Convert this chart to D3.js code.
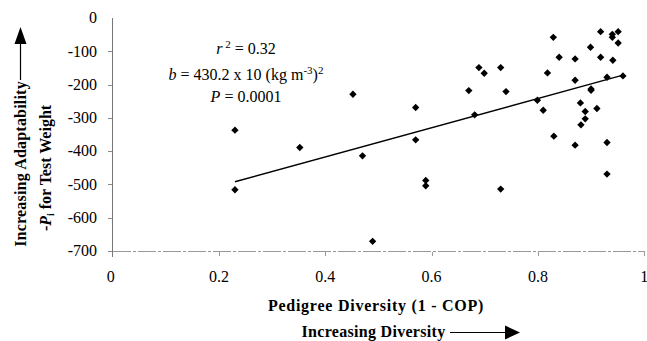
<!DOCTYPE html>
<html>
<head>
<meta charset="utf-8">
<script src="https://cdn.jsdelivr.net/npm/d3@7"></script>
<style>
body { margin: 0; background: #fff; }
</style>
</head>
<body>
<script>
// pedigree diversity (1 - COP) and -Pi for test weight
var diversity = [0.570, 0.570, 0.670, 0.681, 0.689, 0.699, 0.730, 0.740, 0.799, 0.810,
                 0.818, 0.829, 0.830, 0.840, 0.870, 0.870, 0.870, 0.880, 0.889, 0.889,
                 0.881, 0.899, 0.900, 0.900, 0.911, 0.918, 0.918, 0.930, 0.930, 0.940,
                 0.940, 0.941, 0.951, 0.951, 0.960, 0.230, 0.352, 0.452, 0.470, 0.230,
                 0.489, 0.589, 0.589, 0.730, 0.930];
var adaptability = [-269, -366, -218, -291, -149, -166, -149, -221, -247, -277,
                    -165, -58, -355, -118, -123, -187, -382, -255, -281, -303,
                    -321, -88, -213, -217, -272, -41, -118, -178, -374, -49,
                    -58, -127, -41, -75, -174, -337, -389, -229, -414, -516,
                    -671, -488, -504, -514, -469];

// fitted line as drawn
var fitSlope = 439;
var fitIntercept = -593;
var fitRange = [0.23, 0.96];

var xTicks = [0, 0.2, 0.4, 0.6, 0.8, 1];
var yTicks = [0, -100, -200, -300, -400, -500, -600, -700];

var width = 647, height = 341;
var svg = d3.select("body").append("svg")
    .attr("width", width).attr("height", height)
    .attr("font-family", "'Liberation Serif', 'DejaVu Serif', serif");

var x = d3.scaleLinear().domain([0, 1]).range([112.7, 644.2]);
var y = d3.scaleLinear().domain([-700, 0]).range([251, 18]);

// y axis
svg.append("line")
    .attr("x1", 112.5).attr("x2", 112.5)
    .attr("y1", 18).attr("y2", 257)
    .attr("stroke", "#777").attr("stroke-width", 1);

svg.selectAll("line.ytick")
    .data(yTicks.slice(1))
    .enter().append("line")
        .attr("class", "ytick")
        .attr("x1", 108).attr("x2", 112)
        .attr("y1", function(d){ return Math.round(y(d)) + 0.5; })
        .attr("y2", function(d){ return Math.round(y(d)) + 0.5; })
        .attr("stroke", "#888");

svg.selectAll("text.ylab")
    .data(yTicks)
    .enter().append("text")
        .attr("class", "ylab")
        .attr("x", 97)
        .attr("y", function(d){ return y(d); })
        .attr("dy", "0.33em")
        .attr("text-anchor", "end")
        .attr("font-size", 16)
        .text(function(d){ return d; });

// x axis (drawn light, broken like the scan)
svg.append("line")
    .attr("x1", 113).attr("x2", 645)
    .attr("y1", 251.5).attr("y2", 251.5)
    .attr("stroke", "#999").attr("stroke-width", 1)
    .attr("stroke-dasharray", "18,2,3,2");

svg.selectAll("line.xtick")
    .data(xTicks.slice(1))
    .enter().append("line")
        .attr("class", "xtick")
        .attr("x1", function(d){ return Math.round(x(d)) + 0.5; })
        .attr("x2", function(d){ return Math.round(x(d)) + 0.5; })
        .attr("y1", 252).attr("y2", 256)
        .attr("stroke", "#999");

svg.selectAll("text.xlab")
    .data(xTicks)
    .enter().append("text")
        .attr("class", "xlab")
        .attr("x", function(d){ return x(d) + (d === 0 ? -2 : 0); })
        .attr("y", 282)
        .attr("text-anchor", "middle")
        .attr("font-size", 16)
        .text(function(d){ return d; });

// regression line
svg.append("line")
    .attr("x1", x(fitRange[0])).attr("y1", y(fitIntercept + fitSlope * fitRange[0]))
    .attr("x2", x(fitRange[1])).attr("y2", y(fitIntercept + fitSlope * fitRange[1]))
    .attr("stroke", "#000").attr("stroke-width", 1.4);

// points as diamonds
var diamond = d3.symbol().type(d3.symbolSquare).size(27);
svg.selectAll("path.pt")
    .data(diversity)
    .enter().append("path")
        .attr("class", "pt")
        .attr("d", diamond)
        .attr("transform", function(d, i){ return "translate(" + x(d) + "," + y(adaptability[i]) + ") rotate(45)"; })
        .attr("fill", "#000");

// statistics text
var stats = svg.append("g").attr("font-size", 16).attr("text-anchor", "middle");
var t1 = stats.append("text").attr("x", 246).attr("y", 54);
t1.append("tspan").attr("font-style", "italic").text("r");
t1.append("tspan").attr("font-size", 11).attr("dy", -6).text(" 2");
t1.append("tspan").attr("dy", 6).text(" = 0.32");

var t2 = stats.append("text").attr("x", 246).attr("y", 80);
t2.append("tspan").attr("font-style", "italic").text("b");
t2.append("tspan").text(" = 430.2 x 10 (kg m");
t2.append("tspan").attr("font-size", 11).attr("dy", -6).text("-3");
t2.append("tspan").attr("dy", 6).text(")");
t2.append("tspan").attr("font-size", 11).attr("dy", -6).text("2");

var t3 = stats.append("text").attr("x", 246).attr("y", 102);
t3.append("tspan").attr("font-style", "italic").text("P");
t3.append("tspan").text(" = 0.0001");

// x axis title
svg.append("text")
    .attr("x", 376).attr("y", 311)
    .attr("text-anchor", "middle")
    .attr("font-size", 16).attr("font-weight", "bold")
    .attr("letter-spacing", 0.75)
    .text("Pedigree Diversity (1 - COP)");

svg.append("text")
    .attr("x", 373.5).attr("y", 337)
    .attr("text-anchor", "middle")
    .attr("font-size", 16).attr("font-weight", "bold")
    .attr("letter-spacing", 0.3)
    .text("Increasing Diversity");

svg.append("line")
    .attr("x1", 450).attr("x2", 507)
    .attr("y1", 332.5).attr("y2", 332.5)
    .attr("stroke", "#000").attr("stroke-width", 1);
svg.append("path")
    .attr("d", "M505,325.5 L520,332.5 L505,339.5 Z")
    .attr("fill", "#000");

// y axis title
var yt = svg.append("g")
    .attr("font-size", 16).attr("font-weight", "bold")
    .attr("text-anchor", "middle");

yt.append("text")
    .attr("transform", "translate(26,164) rotate(-90)")
    .attr("letter-spacing", 0.2)
    .text("Increasing Adaptability");

var yt2 = yt.append("text")
    .attr("transform", "translate(51,168) rotate(-90)");
yt2.append("tspan").text("-");
yt2.append("tspan").attr("font-style", "italic").text("P");
yt2.append("tspan").attr("font-size", 10).attr("dy", 3).text("i");
yt2.append("tspan").attr("dy", -3).text(" for Test Weight");

svg.append("line")
    .attr("x1", 20.5).attr("x2", 20.5)
    .attr("y1", 80).attr("y2", 42)
    .attr("stroke", "#000").attr("stroke-width", 1.2);
svg.append("path")
    .attr("d", "M14.5,44 L20.5,27 L26.5,44 Z")
    .attr("fill", "#000");
</script>
</body>
</html>
